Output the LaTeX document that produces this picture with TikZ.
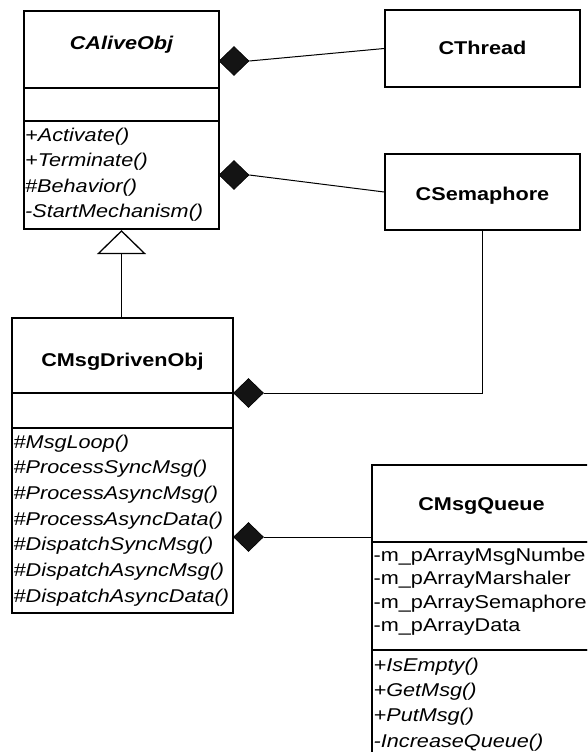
\documentclass[tikz,border=0pt]{standalone}
\usepackage{fontspec}
\setmainfont{Liberation Sans}[FakeStretch=1.17]
\usetikzlibrary{arrows.meta,shapes.geometric}
\begin{document}
\begin{tikzpicture}[x=1pt,y=-1pt,
  every node/.style={font=\fontsize{18.5}{22}\selectfont},
  compart/.style={draw, rectangle, line width=1.6pt, inner sep=0pt, minimum width=#1},
  heavy/.style={line width=2.2pt},
  title/.style={anchor=base, inner sep=0pt, font=\fontsize{18.5}{22}\selectfont\bfseries},
  member/.style={anchor=base west, inner sep=0pt},
  op/.style={member, font=\fontsize{18.5}{22}\selectfont\itshape},
  owner/.style={diamond, fill=black!92, draw=black, line width=0.6pt, inner sep=0pt,
                minimum width=30pt, minimum height=29pt},
  conn/.style={line width=1pt}
]
\useasboundingbox (0,0) rectangle (587,752);
\fill[white] (0,0) rectangle (587,752);
\clip (0,0) rectangle (587,752);

% CAliveObj
\node[compart=195, heavy, minimum height=77pt] (alive) at (121.5,49.5) {};
\node[compart=195, heavy, minimum height=33pt] (aliveattr) at (121.5,104.5) {};
\node[compart=195, heavy, minimum height=108pt] (aliveops) at (121.5,175) {};
\node[title, font=\fontsize{18.5}{22}\selectfont\bfseries\itshape] (alivename) at (121.5,50) {CAliveObj};
\node[op] (a1) at (25,141) {+Activate()};
\node[op] (a2) at (25,166.5) {+Terminate()};
\node[op] (a3) at (25,192) {\#Behavior()};
\node[op] (a4) at (25,217) {-StartMechanism()};

% CThread and CSemaphore
\node[compart=195, minimum height=77pt] (thread) at (482.5,48.5) {};
\node[title] (threadname) at (482.5,55) {CThread};
\node[compart=195, minimum height=76pt] (sem) at (482.5,192) {};
\node[title] (semname) at (482.5,200) {CSemaphore};

% CMsgDrivenObj
\node[compart=221, minimum height=75pt] (driven) at (122.5,355.5) {};
\node[compart=221, minimum height=35pt] (drivenattr) at (122.5,410.5) {};
\node[compart=221, minimum height=185pt] (drivenops) at (122.5,520.5) {};
\node[title] (drivenname) at (122.5,366) {CMsgDrivenObj};
\node[op] (d1) at (13.5,448) {\#MsgLoop()};
\node[op] (d2) at (13.5,473.7) {\#ProcessSyncMsg()};
\node[op] (d3) at (13.5,499.3) {\#ProcessAsyncMsg()};
\node[op] (d4) at (13.5,525) {\#ProcessAsyncData()};
\node[op] (d5) at (13.5,550.7) {\#DispatchSyncMsg()};
\node[op] (d6) at (13.5,576.3) {\#DispatchAsyncMsg()};
\node[op] (d7) at (13.5,602) {\#DispatchAsyncData()};

% CMsgQueue
\node[compart=219, minimum height=77pt] (queue) at (481.5,503.5) {};
\node[compart=219, minimum height=108pt] (queueattr) at (481.5,596) {};
\node[compart=219, minimum height=120pt] (queueops) at (481.5,710) {};
\node[title] (queuename) at (481.5,510) {CMsgQueue};
\node[member] (q1) at (373.5,561) {-m\_pArrayMsgNumbe};
\node[member] (q2) at (373.5,584.5) {-m\_pArrayMarshaler};
\node[member] (q3) at (373.5,608) {-m\_pArraySemaphore};
\node[member] (q4) at (373.5,631.5) {-m\_pArrayData};
\node[op] (q5) at (373.5,671) {+IsEmpty()};
\node[op] (q6) at (373.5,696.3) {+GetMsg()};
\node[op] (q7) at (373.5,721.7) {+PutMsg()};
\node[op] (q8) at (373.5,747) {-IncreaseQueue()};

% composition diamonds
\node[owner] (dA) at (234,61) {};
\node[owner] (dB) at (234,175) {};
\node[owner] (dC) at (248.5,393) {};
\node[owner] (dD) at (248.5,537) {};

% associations
\draw[conn] (dA.east) -- (thread.west);
\draw[conn] (dB.east) -- (sem.west);
\draw[conn] (sem.south) |- (dC.east);
\draw[conn] (dD.east) -- (dD.east -| queue.west);

% generalization
\draw[line width=1.3pt, -{Triangle[open, length=24pt, width=49pt, line width=1.3pt]}]
  (driven.north -| aliveops.south) -- (aliveops.south);
\end{tikzpicture}
\end{document}
